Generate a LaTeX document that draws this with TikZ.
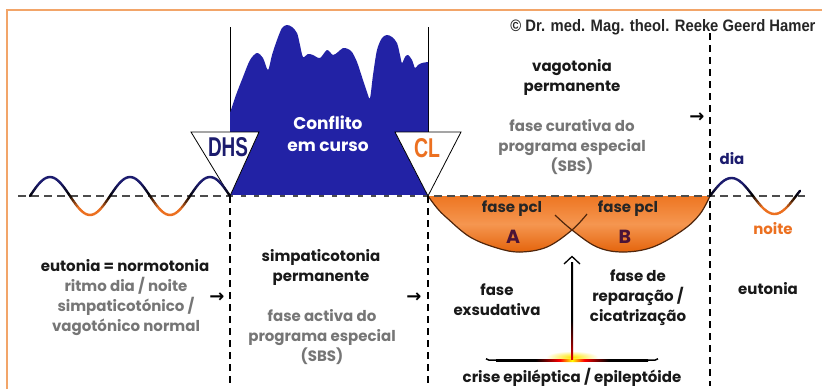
\documentclass[tikz,border=0pt]{standalone}
\usepackage{fontspec}
\setmainfont{Poppins}
\newfontfamily\arialf{Liberation Sans}
\newfontfamily\dejavu{DejaVu Sans}
\usetikzlibrary{arrows.meta}
\definecolor{mblue}{RGB}{34,34,165}
\definecolor{navyt}{RGB}{28,28,110}
\definecolor{orng}{RGB}{236,112,32}
\definecolor{grayt}{RGB}{118,118,118}
\definecolor{framec}{RGB}{242,165,105}
\definecolor{arcc}{RGB}{80,38,12}
\definecolor{letterc}{RGB}{75,20,55}
\pgfdeclarehorizontalshading{glow}{100bp}{color(0bp)=(black); color(38bp)=(black); color(46bp)=(red); color(50bp)=(yellow); color(54bp)=(red); color(62bp)=(black); color(100bp)=(black)}
\pgfdeclareverticalshading{shaft}{100bp}{color(0bp)=(yellow); color(8bp)=(orange); color(22bp)=(red); color(45bp)=(black); color(100bp)=(black)}
\tikzset{
  bt/.style={font=\fontsize{15}{20}\selectfont\bfseries, align=center, inner sep=0pt, text=black!90},
  gt/.style={font=\fontsize{15}{20}\selectfont\bfseries, align=center, inner sep=0pt, text=grayt},
  vline/.style={line width=1pt, black},
  dline/.style={line width=1.1pt, black, dash pattern=on 7pt off 5pt},
  tri/.style={fill=white, draw=black, line width=0.8pt},
  arrowglyph/.style={font=\dejavu\bfseries\fontsize{18}{18}\selectfont, inner sep=0pt},
  lbl/.style={font=\fontsize{15}{16}\selectfont\bfseries, inner sep=0pt},
}
\begin{document}
\begin{tikzpicture}[x=1pt,y=-1pt]
\useasboundingbox (0,0) rectangle (822,389);
\fill[white] (0,0) rectangle (822,389);
% frame
\draw[framec, line width=2pt] (7,389) -- (7,10) -- (822,10);
% vertical solid lines
\draw[vline] (230,27) -- (230,132);
\draw[vline] (428,27) -- (428,132);
% blue mountain
\fill[mblue] (230,113) -- plot[smooth, tension=0.5] coordinates {(230,113) (236,95) (243,77) (250,60) (257,53) (263,58) (268,70) (272,55) (277,40) (282,28) (287,25) (292,27) (297,33) (300,45) (303,57) (308,54) (313,55) (320,58) (327,50) (333,55) (338,52) (343,48) (348,49) (352,52) (357,62) (362,77) (367,92) (370,98) (373,75) (377,50) (382,38) (387,35) (392,37) (397,43) (400,55) (402,63) (405,57) (408,55) (412,60) (415,68) (418,65) (422,63) (428,62)} -- (428,196) -- (230,196) -- cycle;
% orange bowl
\fill[top color={rgb,255:red,238;green,118;blue,34}, bottom color={rgb,255:red,228;green,100;blue,12}, middle color={rgb,255:red,245;green,150;blue,80}]
  plot[smooth, tension=0.6] coordinates {(428,196) (437,208) (447,218) (470,237) (497,248) (520,252) (547,247) (572,230)}
  -- plot[smooth, tension=0.6] coordinates {(572,230) (597,247) (623,252) (653,247) (683,230) (700,214) (710,196)} -- cycle;
\draw[arcc, line width=1.2pt] plot[smooth, tension=0.6] coordinates {(428,196) (437,208) (447,218) (470,237) (497,248) (520,252) (547,247) (572,230) (587,214)};
\draw[arcc, line width=1.2pt] plot[smooth, tension=0.6] coordinates {(555,215) (572,230) (597,247) (623,252) (653,247) (683,230) (700,214) (710,196)};
% baseline dashed
\draw[line width=1.1pt, black!70, dash pattern=on 8pt off 5pt] (18,196) -- (805,196);
\draw[line width=1.1pt, white, dash pattern=on 8pt off 5pt] (233,196) -- (426,196);
% vertical dashed
\draw[dline] (230,196) -- (230,386);
\draw[dline] (428,196) -- (428,386);
\draw[dline] (710,33) -- (710,386);
% triangles
\draw[tri] (191,132) -- (259,132) -- (230,196) -- cycle;
\draw[tri] (395,132) -- (461,132) -- (428,196) -- cycle;
\node[inner sep=0pt, text=navyt] (dhs) at (228,147) {\resizebox{40pt}{19pt}{\arialf\bfseries DHS}};
\node[inner sep=0pt, text=orng] (cl) at (427,148) {\resizebox{26pt}{19pt}{\arialf\bfseries CL}};
% left wave
\foreach \i in {0,...,99}{
  \pgfmathsetmacro\xa{30+2*\i}
  \pgfmathsetmacro\xb{\xa+2}
  \pgfmathsetmacro\ya{196-19*sin(4.5*(\xa-30))}
  \pgfmathsetmacro\yb{196-19*sin(4.5*(\xb-30))}
  \pgfmathsetmacro\s{sin(4.5*(\xa+1-30))}
  \pgfmathsetmacro\p{min(100,abs(\s)*150)}
  \pgfmathtruncatemacro\up{\s>0 ? 1 : 0}
  \ifnum\up=1 \def\cc{navyt}\else\def\cc{orng}\fi
  \draw[line width=2.4pt, color=\cc!\p!black, line cap=round] (\xa,\ya) -- (\xb,\yb);
}
% right wave
\foreach \i in {0,...,44}{
  \pgfmathsetmacro\xa{710+2*\i}
  \pgfmathsetmacro\xb{\xa+2}
  \pgfmathsetmacro\ya{196-18*sin(4.186*(\xa-710))}
  \pgfmathsetmacro\yb{196-18*sin(4.186*(\xb-710))}
  \pgfmathsetmacro\s{sin(4.186*(\xa+1-710))}
  \pgfmathsetmacro\p{min(100,abs(\s)*150)}
  \pgfmathtruncatemacro\up{\s>0 ? 1 : 0}
  \ifnum\up=1 \def\cc{navyt}\else\def\cc{orng}\fi
  \draw[line width=2.4pt, color=\cc!\p!black, line cap=round] (\xa,\ya) -- (\xb,\yb);
}
% crisis arrow
\coordinate (crbase) at (572,358);
\coordinate (crtip) at (572,257);
\shade[inner color=yellow!80!orange, outer color=white] (572,357) ellipse (26 and 6);
\shade[shading=glow] (496,359) rectangle (648,361.5);
\draw[line width=1.5pt, black] (486,358.8) .. controls (488,360.2) .. (497,360.2);
\draw[line width=1.5pt, black] (647,360.2) .. controls (656,360.2) .. (658,358.8);
\shade[shading=shaft] (571,262) rectangle (573.2,359);
\draw[line width=1.3pt, black] (564,264) -- (572,256.5) -- (580,264);
% texts
\node[inner sep=0pt, text=black!85] (copy) at (663,27) {\resizebox{305pt}{12pt}{\arialf\bfseries © Dr. med. Mag. theol. Reeke Geerd Hamer}};
\node[font=\fontsize{17}{22}\selectfont\bfseries, align=center, inner sep=0pt, text=white] (conf) at (328,134) {Conflito\\em curso};
\node[bt] (vago) at (572,77) {vagotonia\\permanente};
\node[gt] (fcur) at (572,147) {fase curativa do\\programa especial\\(SBS)};
\node[lbl, text=navyt] (dia) at (732,159) {dia};
\node[lbl, text=orng] (noite) at (773,229) {noite};
\node[bt] (eun) at (125,266) {eutonia = normotonia};
\node[gt] (ritmo) at (126,306) {ritmo dia / noite\\simpaticotónico /\\vagotónico normal};
\node[bt] (simp) at (321,267) {simpaticotonia\\permanente};
\node[gt] (fact) at (322,337) {fase activa do\\programa especial\\(SBS)};
\node[lbl, text=black!85] (pcla) at (512,209) {fase pcl};
\node[lbl, text=black!85] (pclb) at (628,209) {fase pcl};
\node[font=\fontsize{19}{20}\selectfont\bfseries, inner sep=0pt, text=letterc] (la) at (513,237) {A};
\node[font=\fontsize{19}{20}\selectfont\bfseries, inner sep=0pt, text=letterc] (lb) at (625,237) {B};
\node[bt] (exs) at (497,300) {fase\\exsudativa};
\node[bt] (rep) at (638,298) {fase de\\reparação /\\cicatrização};
\node[bt] (eut) at (768,289) {eutonia};
\node[bt] (crise) at (572,377) {crise epiléptica / epileptóide};
% small arrows
\node[arrowglyph] (ar1) at (217,298) {→};
\node[arrowglyph] (ar2) at (414,298) {→};
\node[arrowglyph] (ar3) at (697,118) {→};
\end{tikzpicture}
\end{document}
